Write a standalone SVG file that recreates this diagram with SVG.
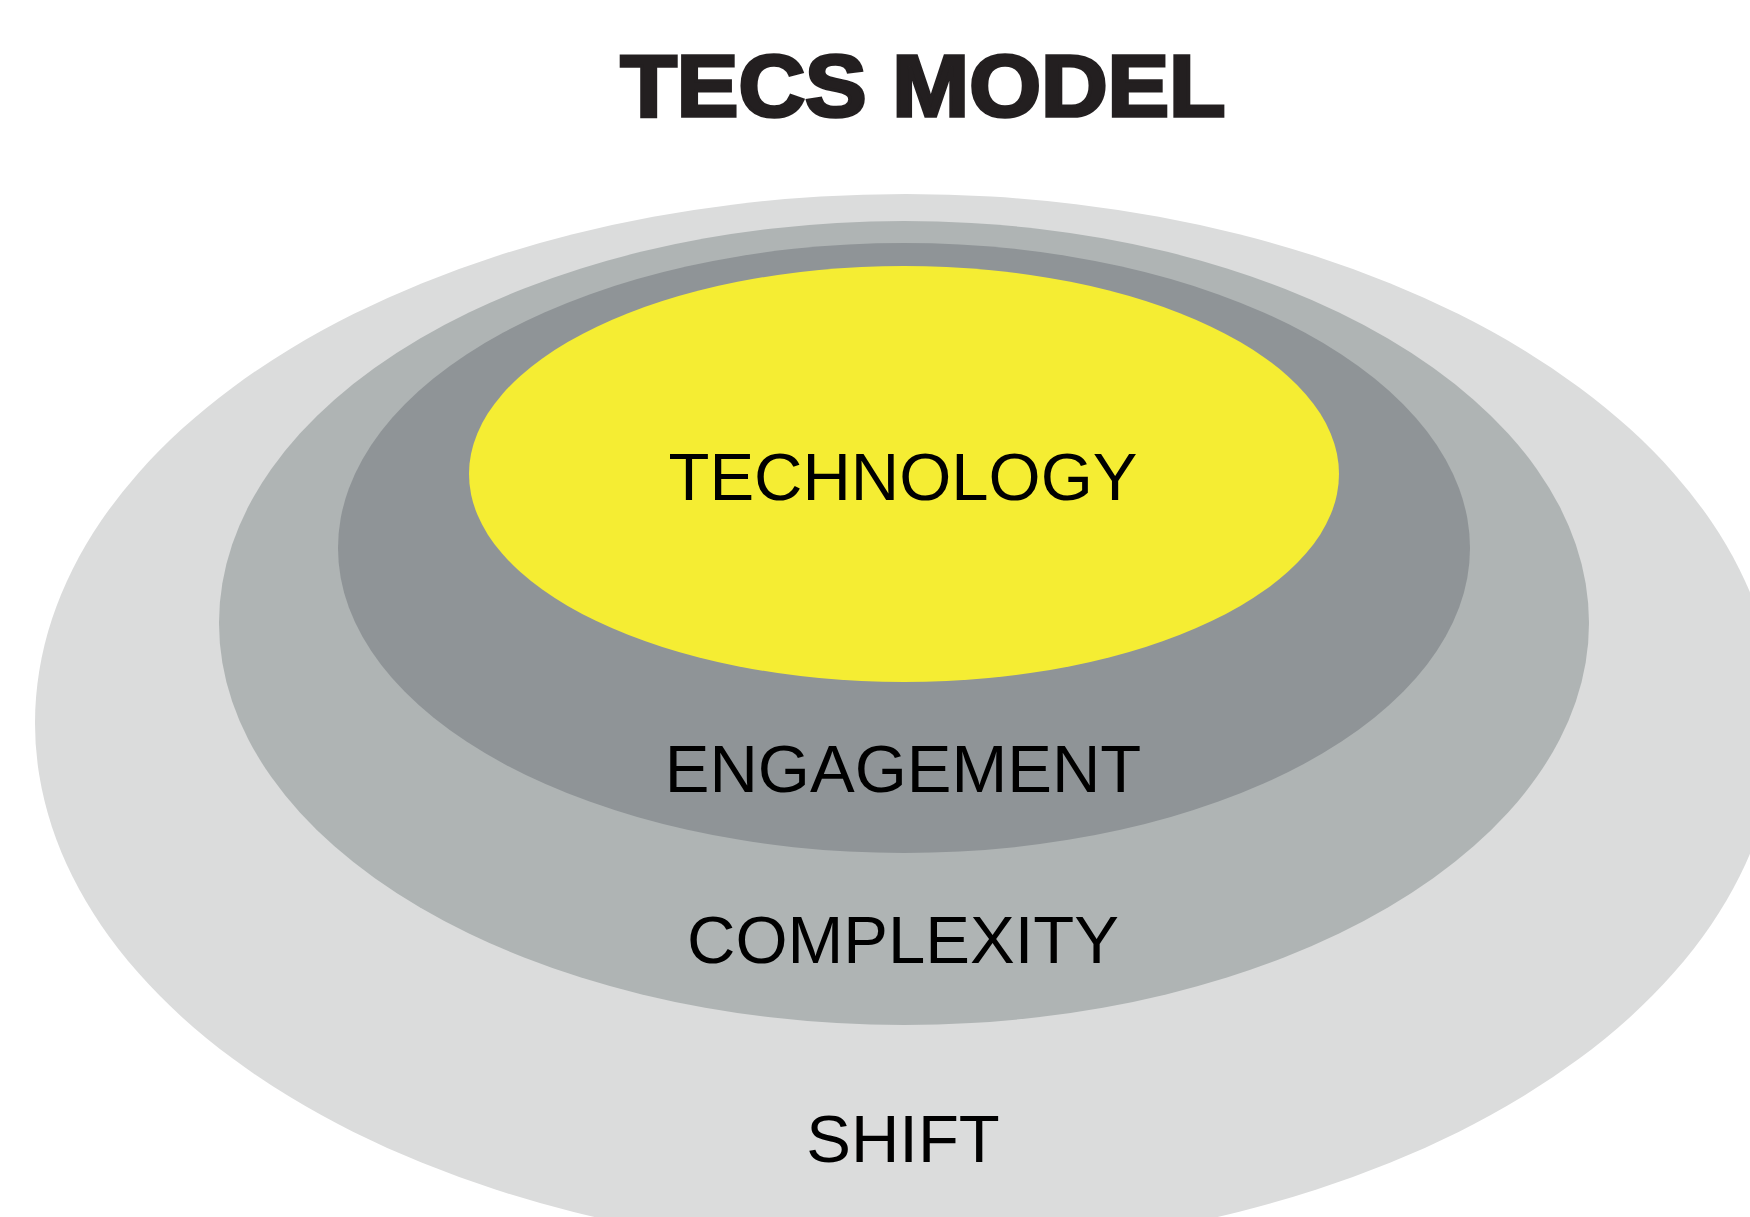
<svg xmlns="http://www.w3.org/2000/svg" width="1750" height="1217" viewBox="0 0 1750 1217">
<style>
.lbl{font-family:"Liberation Sans",Arial,sans-serif;font-size:67px;fill:#000;text-anchor:middle}
.title{font-family:"Liberation Sans",Arial,sans-serif;font-weight:900;font-size:88px;fill:#231f20;stroke:#231f20;stroke-width:3.5;stroke-linejoin:miter;text-anchor:middle}
</style>
<rect width="1750" height="1217" fill="#ffffff"/>
<g id="shift"><ellipse cx="906" cy="723" rx="871" ry="529" fill="#dbdcdc"/><text class="lbl" x="903" y="1162">SHIFT</text></g>
<g id="complexity"><ellipse cx="904" cy="623" rx="685" ry="402" fill="#afb4b4"/><text class="lbl" x="903" y="963">COMPLEXITY</text></g>
<g id="engagement"><ellipse cx="904" cy="548" rx="566" ry="305" fill="#8f9497"/><text class="lbl" x="903" y="792">ENGAGEMENT</text></g>
<g id="technology"><ellipse cx="904" cy="474" rx="435" ry="208" fill="#f5ed33"/><text class="lbl" x="903" y="500">TECHNOLOGY</text></g>
<g id="connectors"></g>
<text class="title" x="923" y="116" textLength="605" lengthAdjust="spacingAndGlyphs">TECS MODEL</text>
</svg>
